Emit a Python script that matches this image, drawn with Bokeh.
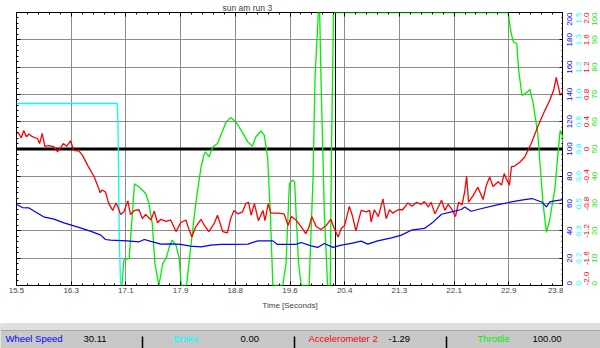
import math
import numpy as np
from bokeh.plotting import figure
from bokeh.models import Range1d, LinearAxis, FixedTicker, Span, ColumnDataSource
from bokeh.layouts import row
from bokeh.embed import file_html
from bokeh.resources import INLINE
from bokeh.core.properties import value

FONT = "Liberation Sans"

# ---------------- data ----------------
wheel_time = [15.50, 15.59, 15.69, 15.91, 16.07, 16.22, 16.42, 16.62, 16.78, 16.85,
              16.93, 17.18, 17.36, 17.44, 17.54, 17.69, 17.84, 17.99, 18.14, 18.30,
              18.45, 18.60, 18.80, 19.01, 19.16, 19.39, 19.46, 19.74, 19.82, 19.97,
              20.07, 20.17, 20.30, 20.43, 20.58, 20.73, 20.83, 20.98, 21.19, 21.34,
              21.49, 21.69, 21.82, 21.95, 22.10, 22.25, 22.30, 22.40, 22.56, 22.81,
              23.01, 23.16, 23.32, 23.47, 23.54, 23.59, 23.67, 23.80]
wheel_speed = [59.3, 57.1, 56.8, 50.3, 48.6, 45.9, 42.9, 39.8, 36.9, 33.7,
               33.2, 32.7, 32.0, 33.7, 32.3, 30.3, 30.5, 30.1, 28.8, 28.3,
               29.6, 30.1, 30.1, 30.3, 32.7, 32.7, 30.1, 30.1, 31.5, 29.0,
               27.9, 30.8, 27.9, 29.6, 30.8, 32.5, 30.3, 32.7, 34.9, 36.9,
               40.5, 41.8, 46.4, 52.2, 53.9, 55.7, 57.6, 54.4, 56.4, 59.3,
               61.2, 62.5, 63.7, 61.2, 57.6, 61.2, 62.0, 63.0]

brake_time = [15.50, 17.03, 17.04, 17.06, 17.08]
brake_value = [1.0, 1.0, 0.88, 0.25, 0.0]

acc_time = [15.50, 15.54, 15.57, 15.61, 15.65, 15.69, 15.74, 15.82, 15.85, 15.89,
            15.93, 15.99, 16.07, 16.12, 16.17, 16.21, 16.26, 16.32, 16.37, 16.45,
            16.50, 16.58, 16.68, 16.74, 16.77, 16.80, 16.85, 16.90, 16.96, 17.01,
            17.04, 17.08, 17.13, 17.19, 17.23, 17.29, 17.36, 17.41, 17.46, 17.54,
            17.59, 17.64, 17.69, 17.77, 17.84, 17.92, 17.99, 18.07, 18.10, 18.16,
            18.22, 18.30, 18.35, 18.42, 18.50, 18.55, 18.63, 18.70, 18.75, 18.80,
            18.86, 18.93, 18.98, 19.02, 19.06, 19.11, 19.17, 19.24, 19.27, 19.32,
            19.36, 19.46, 19.56, 19.62, 19.67, 19.74, 19.82, 19.89, 19.94, 19.98,
            20.05, 20.12, 20.20, 20.27, 20.32, 20.38, 20.43, 20.48, 20.55, 20.60,
            20.65, 20.73, 20.81, 20.86, 20.88, 20.93, 20.99, 21.06, 21.11, 21.16,
            21.21, 21.29, 21.36, 21.44, 21.50, 21.57, 21.64, 21.69, 21.75, 21.79,
            21.85, 21.90, 21.95, 22.00, 22.05, 22.11, 22.16, 22.21, 22.26, 22.30,
            22.33, 22.36, 22.43, 22.50, 22.58, 22.63, 22.68, 22.73, 22.81, 22.86,
            22.90, 22.93, 22.98, 23.01, 23.06, 23.14, 23.21, 23.31, 23.42, 23.52,
            23.59, 23.65, 23.69, 23.75, 23.80]
acc_value = [0.25, 0.22, 0.16, 0.27, 0.18, 0.22, 0.18, 0.15, 0.08, 0.23,
             0.04, 0.05, 0.03, -0.04, 0.02, 0.08, 0.04, 0.12, -0.02, -0.03,
             -0.09, -0.24, -0.41, -0.56, -0.64, -0.60, -0.63, -0.80, -0.90, -0.79,
             -0.85, -0.96, -0.92, -0.76, -0.96, -0.90, -0.89, -1.02, -0.96, -1.04,
             -0.91, -1.08, -1.03, -1.06, -1.04, -1.21, -1.08, -1.04, -1.13, -1.29,
             -1.14, -1.03, -1.12, -1.21, -1.09, -0.97, -1.21, -1.23, -1.02, -0.90,
             -0.95, -0.92, -0.80, -0.78, -0.97, -0.80, -1.05, -0.90, -1.05, -0.80,
             -0.94, -0.94, -0.95, -1.12, -0.99, -1.04, -1.14, -1.24, -1.14, -0.99,
             -1.14, -1.18, -1.12, -1.03, -1.16, -1.29, -1.16, -1.12, -0.84, -0.99,
             -1.20, -0.90, -0.92, -0.90, -1.07, -0.89, -0.99, -0.73, -1.02, -0.89,
             -0.94, -0.89, -0.89, -0.79, -0.84, -0.78, -0.81, -0.77, -0.85, -0.78,
             -0.95, -0.85, -0.75, -0.90, -0.81, -0.89, -0.99, -0.78, -0.82, -0.63,
             -0.40, -0.78, -0.68, -0.56, -0.74, -0.53, -0.41, -0.55, -0.48, -0.53,
             -0.36, -0.43, -0.53, -0.26, -0.25, -0.19, -0.12, 0.08, 0.35, 0.57,
             0.71, 0.86, 1.05, 0.79, 0.84]

thr_time = [17.10, 17.13, 17.21, 17.29, 17.36, 17.41, 17.46, 17.51, 17.56, 17.60,
            17.66, 17.72, 17.77, 17.82, 17.86, 17.92, 17.97, 18.00, 18.08, 18.15,
            18.22, 18.30, 18.35, 18.37, 18.42, 18.48, 18.55, 18.63, 18.68, 18.75,
            18.83, 18.91, 19.01, 19.08, 19.13, 19.21, 19.26, 19.31, 19.35, 19.39,
            19.54, 19.59, 19.64, 19.69, 19.72, 19.74, 19.78, 19.82, 19.94, 20.00,
            20.03, 20.08, 20.10, 20.12, 20.17, 20.22, 20.26, 20.28, 20.31, 22.96,
            23.00, 23.04, 23.09, 23.12, 23.17, 23.24, 23.29, 23.34, 23.41, 23.44,
            23.49, 23.54, 23.59, 23.67, 23.72, 23.75, 23.78, 23.80]
thr_value = [0, 9.3, 9.9, 37.3, 36.1, 34.9, 33.7, 30.0, 22.7, 8.1,
             0, 8.1, 9.9, 14.2, 16.6, 14.8, 9.9, 0, 0, 15.4,
             30.0, 43.4, 48.3, 48.9, 47.1, 50.7, 52.0, 56.8, 59.9, 61.5,
             59.9, 56.8, 52.6, 51.0, 54.4, 56.6, 55.0, 47.1, 27.6, 0,
             0, 8.1, 37.3, 38.6, 37.9, 27.6, 8.1, 0, 0, 39.8,
             76.3, 100, 100, 76.3, 27.6, 0, 0, 50.3, 100, 100,
             93.1, 89.1, 88.7, 78.8, 69.6, 70.7, 71.8, 66.7, 55.6, 45.9,
             30.0, 19.5, 23.9, 35.6, 49.5, 56.8, 55.0, 50.3]

cursor_time = 20.34
acc_zero = 0.0

x_labels = ["15.5", "16.3", "17.1", "17.9", "18.8", "19.6", "20.4", "21.3", "22.1", "22.9", "23.8"]
speed_labels = ["0", "20", "40", "60", "80", "100", "120", "140", "160", "180", "200"]
brake_labels = ["0", "0.2", "0.3", "0.5", "0.6", "0.8", "0.9", "1.0", "1.2", "1.3", "1.5"]
acc_labels = ["-2.0", "-1.6", "-1.2", "-0.8", "-0.4", "0", "0.4", "0.8", "1.2", "1.6", "2.0"]
thr_labels = ["0", "10", "20", "30", "40", "50", "60", "70", "80", "90", "100"]

channel_names = ["Wheel Speed", "Brake", "Accelerometer 2", "Throttle"]
channel_values = ["30.11", "0.00", "-1.29", "100.00"]

BLUE, CYAN, RED, GREEN = "#0000ff", "#00ffff", "#ff0000", "#00ee00"
channel_colors = [BLUE, CYAN, RED, GREEN]

# ---------------- ticks ----------------
def ticks(lo, hi, n):
    return [float(v) for v in np.linspace(lo, hi, n)]

x_ticks, x_minor = ticks(15.5, 23.8, 11), ticks(15.5, 23.8, 51)
sp_ticks, sp_minor = ticks(0, 200, 11), ticks(0, 200, 51)
br_ticks = ticks(0, 1.5, 11)
ac_ticks = ticks(-2, 2, 11)
th_ticks = ticks(0, 100, 11)

RANGES = {"brake": (0, 1.5), "acc": (-2, 2), "thr": (0, 100)}

# ---------------- main chart ----------------
p = figure(width=563, height=323, x_range=Range1d(15.5, 23.8), y_range=Range1d(0, 200),
           output_backend="svg", toolbar_location=None,
           min_border_left=16, min_border_right=0, min_border_top=12, min_border_bottom=38,
           background_fill_color="white", border_fill_color="white",
           outline_line_color="black", outline_line_width=1)
p.extra_y_ranges = {k: Range1d(*v) for k, v in RANGES.items()}

p.title.text = "sun am run 3"
p.title.align = "left"
p.title.offset = 206
p.title.standoff = 0
p.title.text_font = FONT
p.title.text_font_size = "8.5px"
p.title.text_font_style = "normal"

def tick_style(ax, major_in=4, minor_in=2):
    ax.axis_line_color = None
    ax.major_tick_in = major_in
    ax.major_tick_out = 0
    ax.minor_tick_in = minor_in
    ax.minor_tick_out = 0
    ax.major_tick_line_color = "black"
    ax.minor_tick_line_color = "black"

def hide_labels(ax):
    ax.major_label_text_color = None
    ax.major_label_text_font_size = "1px"
    ax.major_label_standoff = 0

xa = p.xaxis[0]
xa.ticker = FixedTicker(ticks=x_ticks, minor_ticks=x_minor)
xa.major_label_overrides = dict(zip(x_ticks, x_labels))
tick_style(xa)
xa.major_label_standoff = 2
xa.major_label_text_font = FONT
xa.major_label_text_font_size = "8px"
xa.axis_label = "Time [Seconds]"
xa.axis_label_text_font = FONT
xa.axis_label_text_font_size = "8px"
xa.axis_label_text_font_style = "normal"
xa.axis_label_standoff = 5

ya = p.yaxis[0]
ya.ticker = FixedTicker(ticks=sp_ticks, minor_ticks=sp_minor)
tick_style(ya)
hide_labels(ya)

top = LinearAxis(ticker=FixedTicker(ticks=x_ticks, minor_ticks=x_minor))
tick_style(top)
hide_labels(top)
p.add_layout(top, "above")

right = LinearAxis(ticker=FixedTicker(ticks=sp_ticks, minor_ticks=sp_minor))
tick_style(right)
hide_labels(right)
p.add_layout(right, "right")

for g in (p.xgrid, p.ygrid):
    g.grid_line_color = "#8c8c8c"
    g.grid_line_width = 1

p.add_layout(Span(location=acc_zero, dimension="width", y_range_name="acc",
                  line_color="black", line_width=3, level="underlay"))
p.add_layout(Span(location=cursor_time, dimension="height",
                  line_color="black", line_width=1, level="underlay"))

p.line(brake_time, brake_value, y_range_name="brake", line_color=CYAN, line_width=1.3)
p.line(thr_time, thr_value, y_range_name="thr", line_color=GREEN, line_width=1.3)
p.line(acc_time, acc_value, y_range_name="acc", line_color=RED, line_width=1.3)
p.line(wheel_time, wheel_speed, line_color=BLUE, line_width=1.2)

# ---------------- right-hand scale columns (labels read bottom-to-top) ----------------
side = figure(width=37, height=323, x_range=Range1d(563, 600), y_range=Range1d(0, 200),
              output_backend="svg", toolbar_location=None,
              x_axis_location=None, y_axis_location=None,
              min_border_left=0, min_border_right=0, min_border_top=12, min_border_bottom=38,
              background_fill_color="white", border_fill_color="white",
              outline_line_color=None)
side.extra_y_ranges = {k: Range1d(*v) for k, v in RANGES.items()}
side.grid.visible = False

edge_align = ["left"] + ["center"] * 9 + ["right"]
scale_specs = [
    ("default", sp_ticks, speed_labels, BLUE, 568.5),
    ("brake", br_ticks, brake_labels, CYAN, 577.5),
    ("acc", ac_ticks, acc_labels, RED, 586),
    ("thr", th_ticks, thr_labels, GREEN, 594),
]
for rng, tk, labels, color, col_x in scale_specs:
    src = ColumnDataSource(dict(x=[col_x] * len(tk), y=tk, text=labels, align=edge_align))
    side.text(x="x", y="y", text="text", source=src, y_range_name=rng,
              angle=math.pi / 2, text_align="align", text_baseline="middle",
              text_color=color, text_font=value(FONT), text_font_size="8px")

# ---------------- status bar ----------------
s = figure(width=600, height=25, x_range=Range1d(0, 600), y_range=Range1d(0, 25),
           output_backend="svg", toolbar_location=None,
           x_axis_location=None, y_axis_location=None,
           min_border=0, min_border_left=0, min_border_right=0,
           min_border_top=0, min_border_bottom=0,
           background_fill_color="#c8c8c8", border_fill_color="#c8c8c8",
           outline_line_color=None)
s.grid.visible = False
s.quad(left=0, right=600, bottom=18, top=25, fill_color="#dedede", line_color=None)
s.segment(x0=0, y0=18, x1=600, y1=18, line_color="#a8a8a8", line_width=1)

name_x = [5, 173, 308, 477]
val_x = [83, 240, 388, 532]
s.text(x=name_x, y=[10] * 4, text=channel_names, text_color=channel_colors,
       text_baseline="middle", text_font=value(FONT), text_font_size="9.5px")
s.text(x=val_x, y=[10] * 4, text=channel_values, text_color="black",
       text_baseline="middle", text_font=value(FONT), text_font_size="9.5px")
s.segment(x0=[142, 294, 446], y0=[0] * 3, x1=[142, 294, 446], y1=[12] * 3,
          line_color="black", line_width=1.5)

open("out.html", "w").write(file_html([row(p, side, spacing=0), s], INLINE))
